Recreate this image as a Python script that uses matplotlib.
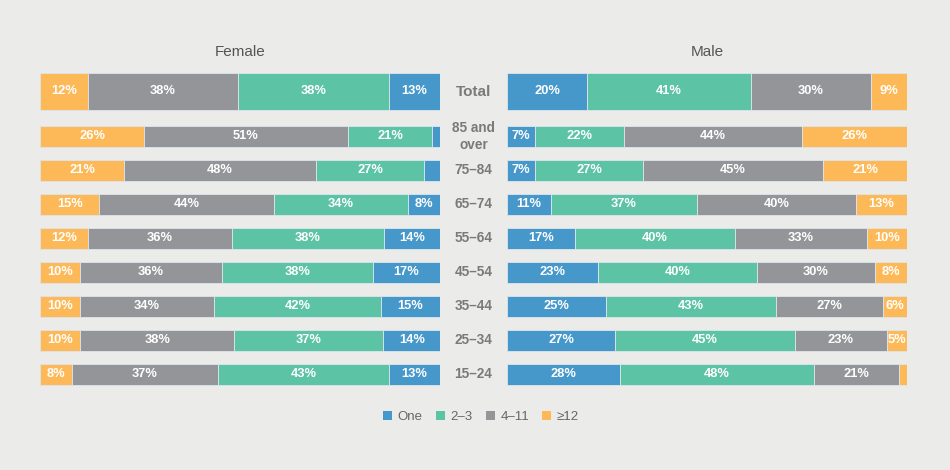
import matplotlib
matplotlib.use("Agg")
import matplotlib.pyplot as plt
from matplotlib.patches import Patch
import numpy as np

plt.rcParams['font.family'] = ['Liberation Sans', 'DejaVu Sans']

rows = ["Total", "85 and\nover", "75–84", "65–74", "55–64", "45–54", "35–44", "25–34", "15–24"]
categories = ["One", "2–3", "4–11", "≥12"]

female_one = [13, 2, 4, 8, 14, 17, 15, 14, 13]
female_23 = [38, 21, 27, 34, 38, 38, 42, 37, 43]
female_411 = [38, 51, 48, 44, 36, 36, 34, 38, 37]
female_12 = [12, 26, 21, 15, 12, 10, 10, 10, 8]

male_one = [20, 7, 7, 11, 17, 23, 25, 27, 28]
male_23 = [41, 22, 27, 37, 40, 40, 43, 45, 48]
male_411 = [30, 44, 45, 40, 33, 30, 27, 23, 21]
male_12 = [9, 26, 21, 13, 10, 8, 6, 5, 2]

colors = {"One": "#4698cb", "2–3": "#5cc3a5", "4–11": "#939598", "≥12": "#fdb957"}
bg = "#ebecea"

W, H = 950, 470
fig = plt.figure(figsize=(W / 100, H / 100), dpi=100)
fig.patch.set_facecolor(bg)

# row layout (units: 34px per row)
ypos = [0.0] + [45 / 34 + i for i in range(len(rows) - 1)]
heights = [37 / 34] + [21 / 34] * (len(rows) - 1)
top_px, bot_px = 60, 400
center0 = 91.5
ylim_top = (top_px - center0) / 34
ylim_bot = (bot_px - center0) / 34


def make_ax(x0, x1):
    ax = fig.add_axes([x0 / W, 1 - bot_px / H, (x1 - x0) / W, (bot_px - top_px) / H])
    ax.set_facecolor(bg)
    ax.set_ylim(ylim_bot, ylim_top)
    ax.set_xlim(0, 100)
    ax.axis("off")
    return ax


def draw(ax, series, names):
    arr = np.array(series, dtype=float)
    arr = arr / arr.sum(axis=0) * 100
    left = np.zeros(arr.shape[1])
    for vals, raw, name in zip(arr, series, names):
        ax.barh(ypos, vals, left=left, height=heights, color=colors[name],
                edgecolor="#dde5ec", linewidth=0.6)
        for i, (v, r) in enumerate(zip(vals, raw)):
            if r >= 5:
                ax.text(left[i] + v / 2, ypos[i], f"{r}%", ha="center", va="center",
                        color="white", fontsize=9.3, fontweight="bold")
        left += vals


axF = make_ax(40, 440)
draw(axF, [female_12, female_411, female_23, female_one], ["≥12", "4–11", "2–3", "One"])
axM = make_ax(507, 907)
draw(axM, [male_one, male_23, male_411, male_12], ["One", "2–3", "4–11", "≥12"])

fig.text(240 / W, 1 - 52 / H, "Female", ha="center", va="center", fontsize=11, color="#555555")
fig.text(707 / W, 1 - 52 / H, "Male", ha="center", va="center", fontsize=11, color="#555555")

# row labels in the middle
for i, lab in enumerate(rows):
    ypx = center0 + ypos[i] * 34
    fig.text(473.5 / W, 1 - ypx / H, lab, ha="center", va="center",
             fontsize=11 if i == 0 else 9.8, fontweight="bold", color="#7a7a7a",
             linespacing=1.2)

handles = [Patch(facecolor=colors[c], edgecolor="none") for c in categories]
fig.legend(handles, categories, loc="center", bbox_to_anchor=(481 / W, 1 - 417 / H),
           ncol=4, frameon=False, fontsize=9.5, handlelength=0.7, handleheight=0.7,
           handletextpad=0.4, columnspacing=1.0, labelcolor="#666666")

fig.savefig("out.png", dpi=100, facecolor=bg)
